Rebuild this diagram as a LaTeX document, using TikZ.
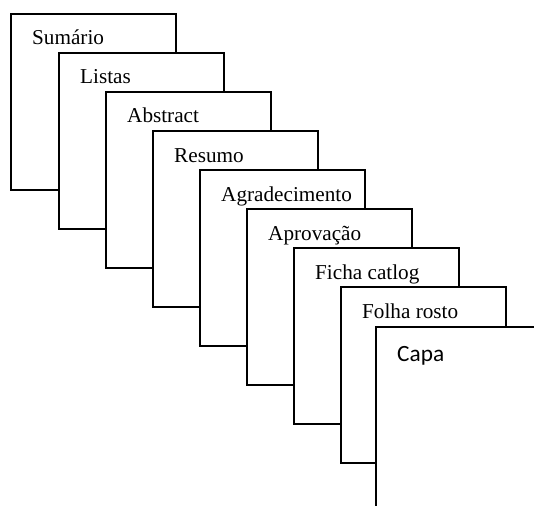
\documentclass[tikz,border=0pt]{standalone}
\usepackage{fontspec}
\setmainfont{Liberation Serif}
\newfontfamily\capafont{Carlito}
\begin{document}
\begin{tikzpicture}[x=1pt,y=-1pt,
  pagebox/.style={draw=black, fill=white, line width=1.8pt},
  lbl/.style={anchor=base west, inner sep=0pt, font=\fontsize{21.2}{25}\selectfont},
  capalbl/.style={anchor=base west, inner sep=0pt, font=\capafont\fontsize{23.3}{28}\selectfont}]
\clip (0,0) rectangle (534,505);
\fill[white] (0,0) rectangle (534,505);
\foreach \xl/\yt/\t/\n in {11/14/Sumário/p0, 59/53/Listas/p1, 106/92/Abstract/p2, 153/131/Resumo/p3, 200/170/Agradecimento/p4, 247/209/Aprovação/p5, 294/248/Ficha catlog/p6, 341/287/Folha rosto/p7} {
  \draw[pagebox] (\xl,\yt) rectangle ++(165,176);
  \node[lbl] (\n) at (\xl+21,\yt+31) {\t};
}
\draw[pagebox] (376,327) rectangle (550,520);
\node[capalbl] (capa) at (397,361) {Capa};
\end{tikzpicture}
\end{document}
